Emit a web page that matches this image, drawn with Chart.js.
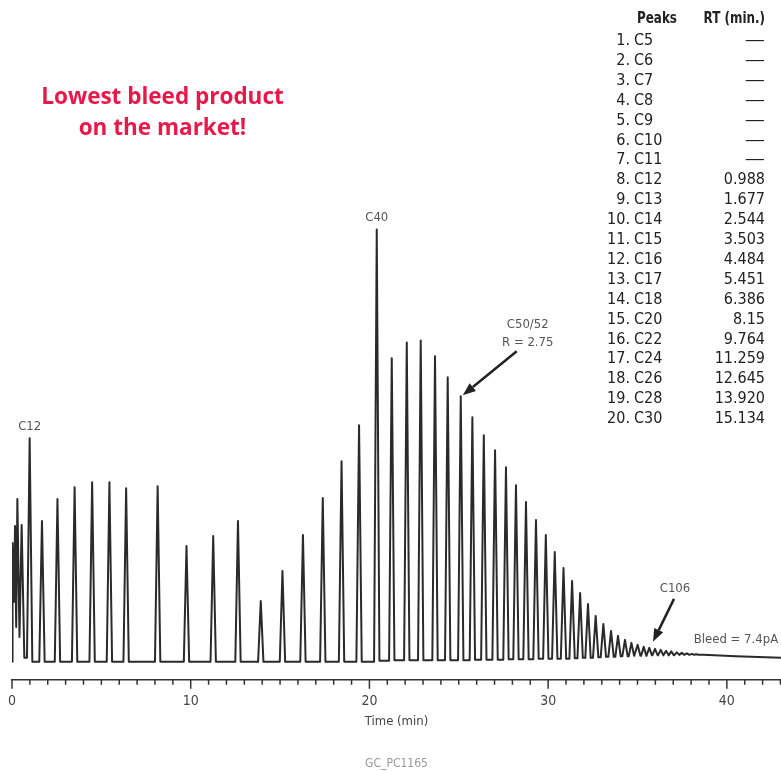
<!DOCTYPE html>
<html>
<head>
<meta charset="utf-8">
<script src="https://cdn.jsdelivr.net/npm/chart.js@4.4.1/dist/chart.umd.min.js"></script>
<style>
  body { margin: 0; background: #fff; }
  #wrap { position: relative; width: 781px; height: 771px; overflow: hidden; }
  #promo { position: absolute; left: 0; top: 80px; width: 325px; text-align: center;
    font: bold 22.5px "Open Sans", sans-serif; line-height: 31px; color: #e8194a; }
  .cell { position: absolute; font: 16px "Liberation Sans Narrow", "DejaVu Sans Condensed", sans-serif;
    color: #222; line-height: 20px; white-space: nowrap; }
  .head { font-weight: bold; transform: scaleX(0.83); }
  .dash { transform: scaleX(1.4); }
</style>
</head>
<body>
<div id="wrap">
  <canvas id="chrom" width="781" height="771"></canvas>
  <div id="promo">Lowest bleed product<br>on the market!</div>
  <div id="table"></div>
</div>
<script>
// peak table (right side)
const tableNames = ["C5", "C6", "C7", "C8", "C9", "C10", "C11", "C12", "C13", "C14",
  "C15", "C16", "C17", "C18", "C20", "C22", "C24", "C26", "C28", "C30"];
const tableRT = ["—", "—", "—", "—", "—", "—", "—", "0.988", "1.677", "2.544",
  "3.503", "4.484", "5.451", "6.386", "8.15", "9.764", "11.259", "12.645", "13.920", "15.134"];

// chromatogram peaks: retention time (min) and height (signal units)
const peakTimes = [0.04, 0.17, 0.30, 0.54, 0.988, 1.677, 2.544, 3.503, 4.484, 5.451,
  6.386, 8.15, 9.764, 11.259, 12.645, 13.92, 15.134, 16.28, 17.39, 18.44,
  19.42, 20.41, 21.25, 22.09, 22.87, 23.67, 24.38, 25.11, 25.76, 26.40,
  27.03, 27.64, 28.20, 28.76, 29.32, 29.87, 30.37, 30.86, 31.34, 31.79,
  32.23, 32.66, 33.09, 33.52, 33.91, 34.30, 34.66, 35.01, 35.35, 35.66,
  35.98, 36.30, 36.60, 36.89, 37.20, 37.48, 37.76, 38.04, 38.28];
const peakHeights = [119, 136, 163, 137, 224, 141, 163, 175, 180, 180,
  174, 176, 116, 126, 141, 61, 91, 127, 164, 201,
  237, 433, 304, 320, 322, 306, 285, 266, 245, 227,
  212, 195, 177, 160, 142, 127, 110, 94, 81, 69,
  58, 46, 38, 31, 26, 22, 19, 17, 15, 14,
  13, 12, 11, 10.5, 9.5, 9, 8.5, 8, 7.5];
// signal level the trace drops back to after each peak
const valleyLevels = [60, 35, 25, 4, 0, 0, 0, 0, 0, 0,
  0, 0, 0, 0, 0, 0, 0, 0, 0, 0,
  0, 1, 1.5, 1.5, 1.5, 1.5, 1.5, 1.5, 2, 2,
  2, 2.5, 2.5, 2.5, 3, 3, 3, 3, 3.5, 4,
  4, 4.5, 5, 5, 5.5, 5.5, 6, 6, 6, 6.5,
  6.5, 6.5, 6.5, 6.5, 7, 7, 7, 7, 7];
// column bleed after the last peak
const tailTimes = [38.7, 40.5, 43.03];
const tailLevels = [7, 5.5, 4];

const xTicks = [0, 10, 20, 30, 40];

const labelFont = '"Liberation Sans Narrow", "DejaVu Sans Condensed", sans-serif';

// build the table
const table = document.getElementById("table");
function cell(text, left, top, width, align, cls) {
  const d = document.createElement("div");
  d.className = "cell" + (cls ? " " + cls : "");
  d.textContent = text;
  d.style.left = left + "px";
  d.style.top = top + "px";
  d.style.width = width + "px";
  d.style.textAlign = align;
  d.style.transformOrigin = align;
  table.appendChild(d);
}
cell("Peaks", 637, 8, 60, "left", "head");
cell("RT (min.)", 680, 8, 85, "right", "head");
tableNames.forEach((name, i) => {
  const top = 30 + i * 19.9;
  cell((i + 1) + ".", 580, top, 50, "right");
  cell(name, 634, top, 50, "left");
  cell(tableRT[i], 690, top, 75, "right", tableRT[i] === "—" ? "dash" : "");
});

// trace points from the peak list
const halfWidth = 0.15;
const trace = [{ x: 0, y: 0 }];
let level = 0;
peakTimes.forEach((t, i) => {
  const prev = i ? peakTimes[i - 1] : 0;
  const next = i < peakTimes.length - 1 ? peakTimes[i + 1] : tailTimes[0];
  const wl = Math.min(halfWidth, (t - prev) / 2);
  const wr = Math.min(halfWidth, (next - t) / 2);
  trace.push({ x: t - wl, y: level }, { x: t, y: peakHeights[i] }, { x: t + wr, y: valleyLevels[i] });
  level = valleyLevels[i];
});
tailTimes.forEach((t, i) => trace.push({ x: t, y: tailLevels[i] }));

const tickMarks = {
  id: "tickMarks",
  afterDraw(chart) {
    const { ctx, chartArea } = chart;
    const x = chart.scales.x;
    ctx.save();
    ctx.strokeStyle = "#333";
    ctx.lineWidth = 1.5;
    x.ticks.forEach(tk => {
      const px = x.getPixelForValue(tk.value);
      const len = xTicks.includes(tk.value) ? 9 : 5;
      ctx.beginPath();
      ctx.moveTo(px, chartArea.bottom);
      ctx.lineTo(px, chartArea.bottom + len);
      ctx.stroke();
    });
    ctx.restore();
  }
};

function arrow(ctx, x1, y1, x2, y2) {
  const a = Math.atan2(y2 - y1, x2 - x1);
  const hl = 13, hw = 5;
  const bx = x2 - hl * Math.cos(a), by = y2 - hl * Math.sin(a);
  ctx.beginPath();
  ctx.moveTo(x1, y1);
  ctx.lineTo(bx, by);
  ctx.stroke();
  ctx.beginPath();
  ctx.moveTo(x2, y2);
  ctx.lineTo(bx + hw * Math.sin(a), by - hw * Math.cos(a));
  ctx.lineTo(bx - hw * Math.sin(a), by + hw * Math.cos(a));
  ctx.closePath();
  ctx.fill();
}

const peakNotes = {
  id: "peakNotes",
  afterDatasetsDraw(chart) {
    const { ctx } = chart;
    const x = chart.scales.x, y = chart.scales.y;
    const at = t => {
      const i = peakTimes.indexOf(t);
      return [x.getPixelForValue(t), y.getPixelForValue(peakHeights[i])];
    };
    ctx.save();
    ctx.fillStyle = "#555";
    ctx.strokeStyle = "#222";
    ctx.font = "13px " + labelFont;
    ctx.textAlign = "center";
    ctx.textBaseline = "middle";

    let [px, py] = at(0.988);
    ctx.fillText("C12", px, py - 12);
    [px, py] = at(20.41);
    ctx.fillText("C40", px, py - 12);

    [px, py] = at(25.11);
    ctx.fillText("C50/52", px + 67, py - 72);
    ctx.fillText("R = 2.75", px + 67, py - 54);
    ctx.fillStyle = "#222";
    ctx.lineWidth = 2.5;
    arrow(ctx, px + 56, py - 45, px + 2, py - 1);

    [px, py] = at(35.98);
    ctx.fillStyle = "#555";
    ctx.fillText("C106", px + 20, py - 60);
    ctx.fillStyle = "#222";
    arrow(ctx, px + 19, py - 50, px - 2, py - 7);

    ctx.fillStyle = "#555";
    ctx.textAlign = "left";
    ctx.fillText("Bleed = 7.4pA", x.getPixelForValue(38.15), y.getPixelForValue(22));
    ctx.restore();
  }
};

Chart.defaults.font.family = labelFont;

new Chart(document.getElementById("chrom"), {
  type: "line",
  data: {
    datasets: [{
      data: trace,
      borderColor: "#2a2a2a",
      borderWidth: 2,
      pointRadius: 0,
      tension: 0,
      fill: false,
      borderJoinStyle: "round"
    }]
  },
  options: {
    responsive: false,
    animation: false,
    events: [],
    layout: { padding: { left: 12, right: 0, top: 0, bottom: 0 } },
    plugins: {
      legend: { display: false },
      tooltip: { enabled: false },
      title: {
        display: true,
        position: "bottom",
        text: "GC_PC1165",
        color: "#999",
        font: { size: 12, weight: "normal" },
        padding: { top: 26.8, bottom: 0 }
      }
    },
    scales: {
      x: {
        type: "linear",
        min: 0,
        max: 43.03,
        grid: { display: false, drawTicks: true, tickLength: 13.6 },
        border: { display: true, color: "#333", width: 1.5 },
        ticks: {
          stepSize: 1,
          autoSkip: false,
          maxRotation: 0,
          includeBounds: false,
          padding: 0,
          color: "#444",
          font: { size: 14 },
          callback: v => xTicks.includes(v) ? String(v) : ""
        },
        title: {
          display: true,
          text: "Time (min)",
          color: "#444",
          font: { size: 13 },
          padding: { top: 4, bottom: 0 }
        }
      },
      y: {
        display: false,
        min: -18,
        max: 663
      }
    }
  },
  plugins: [tickMarks, peakNotes]
});
</script>
</body>
</html>
